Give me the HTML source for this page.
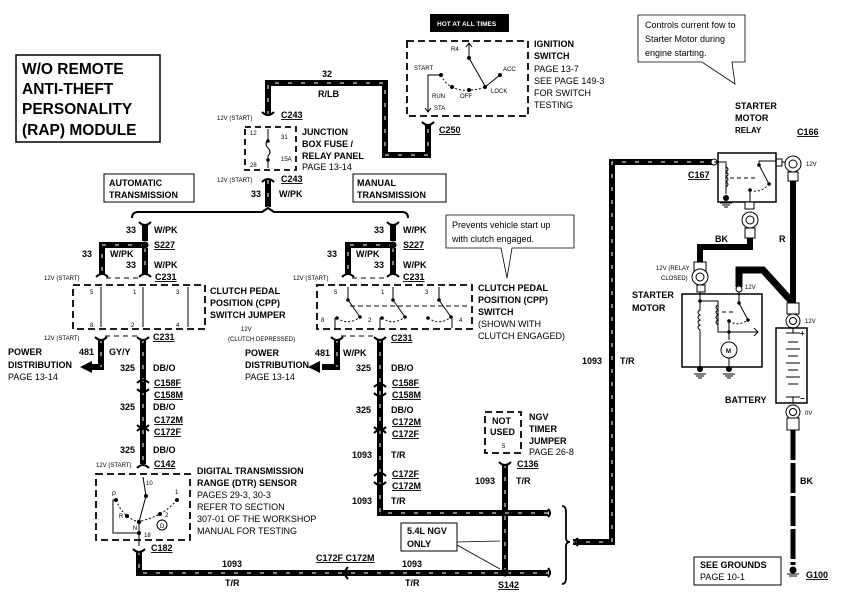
<!DOCTYPE html>
<html><head><meta charset="utf-8"><style>
html,body{margin:0;padding:0;background:#fff;}
svg{display:block;}
text{font-family:"Liberation Sans",Arial,sans-serif;fill:#000;}
.b{font-weight:bold;font-size:9px;}
.s{font-size:6px;}
.n{font-size:9px;}
.u{text-decoration:underline;}
</style></head><body>
<svg width="847" height="598" viewBox="0 0 847 598" xmlns="http://www.w3.org/2000/svg">
<rect width="847" height="598" fill="#fff"/>

<!-- title -->
<rect x="16" y="55" width="144" height="87" fill="none" stroke="#000" stroke-width="1.5"/>
<text x="22" y="74" style="font-size:15.5px;font-weight:bold">W/O REMOTE</text>
<text x="22" y="94" style="font-size:15.5px;font-weight:bold">ANTI-THEFT</text>
<text x="22" y="114" style="font-size:15.5px;font-weight:bold">PERSONALITY</text>
<text x="22" y="135" style="font-size:15.5px;font-weight:bold">(RAP) MODULE</text>

<!-- thick wires -->
<g fill="none" stroke="#000" stroke-width="6" stroke-linejoin="miter">
<path d="M268,115 V83 H385 V155 H428 V125"/>
<path d="M268,180 V207"/>
<path d="M145,224 V241"/>
<path d="M145,248 V274"/>
<path d="M145,245 H102 V274"/>
<path d="M393,224 V241"/>
<path d="M393,248 V274"/>
<path d="M393,245 H348 V274"/>
<path d="M101,339 V367 H88"/>
<path d="M143,339 V464"/>
<path d="M337,339 V367 H322"/>
<path d="M380,339 V513 H548"/>
<path d="M139,551 V573 H548"/>
<path d="M505,464 V573"/>
<path d="M573,542 H612 V162 H712"/>
<path d="M793,180 V303"/>
<path d="M750,238 V247 H700 V262"/>
<path d="M739,287 V270 H763 L793,303" stroke-width="7"/>
</g>
<g fill="none" stroke="#fff" stroke-width="1" stroke-dasharray="4 9">
<path d="M268,115 V83 H385 V155 H428 V125"/>
<path d="M268,180 V207"/>
<path d="M145,248 V274"/>
<path d="M145,245 H102 V274"/>
<path d="M393,245 H348 V274"/>
<path d="M393,248 V274"/>
<path d="M101,339 V367"/>
<path d="M143,339 V464"/>
<path d="M337,339 V367"/>
<path d="M380,339 V513 H548"/>
<path d="M139,551 V573 H548"/>
<path d="M505,464 V573"/>
<path d="M573,542 H612 V162 H712"/>
</g>
<path d="M793,430 V565" stroke="#000" stroke-width="5" stroke-dasharray="30 3" fill="none"/>
<polygon points="80,367 92,361 92,373" fill="#000"/>
<polygon points="308,367 320,361 320,373" fill="#000"/>

<g fill="none" stroke="#000" stroke-width="2">
<path d="M262,112 Q268,118 274,112"/><path d="M262,182 Q268,176 274,182"/>
<path d="M422,122 Q428,128 434,122"/>
<path d="M139,222 Q145,228 151,222"/><path d="M387,222 Q393,228 399,222"/>
<path d="M96,277 Q102,271 108,277"/><path d="M139,277 Q145,271 151,277"/>
<path d="M342,277 Q348,271 354,277"/><path d="M387,277 Q393,271 399,277"/>
<path d="M95,337 Q101,343 107,337"/><path d="M137,337 Q143,343 149,337"/>
<path d="M331,337 Q337,343 343,337"/><path d="M374,337 Q380,343 386,337"/>
<path d="M137,383 Q143,377 149,383"/><path d="M137,389 Q143,395 149,389"/>
<path d="M137,425 Q143,431 149,425"/><path d="M137,431 Q143,425 149,431"/>
<path d="M137,468 Q143,462 149,468"/>
<path d="M374,387 Q380,381 386,387"/><path d="M374,393 Q380,399 386,393"/>
<path d="M374,427 Q380,433 386,427"/><path d="M374,433 Q380,427 386,433"/>
<path d="M374,476 Q380,470 386,476"/><path d="M374,482 Q380,488 386,482"/>
<path d="M133,549 Q139,555 145,549"/>
<path d="M499,462 Q505,468 511,462"/>
<path d="M348,567 Q342,573 348,579"/>
<path d="M548,509 Q552,513 548,517"/><path d="M548,568 Q552,573 548,577"/>
<path d="M578,538 Q573,542 578,546"/>
</g>
<g stroke="#000" stroke-width="1" stroke-dasharray="5 4">
<line x1="106" y1="278" x2="140" y2="278"/><line x1="352" y1="278" x2="388" y2="278"/>
<line x1="105" y1="336" x2="138" y2="336"/><line x1="341" y1="336" x2="375" y2="336"/>
</g>

<!-- fuse box -->
<rect x="245" y="127" width="51" height="43" fill="none" stroke="#000" stroke-width="1.8" stroke-dasharray="6 4"/>
<path d="M268,129 V140 q-4,4 0,8 q4,4 0,8 V168" fill="none" stroke="#000" stroke-width="1"/>
<circle cx="268" cy="141" r="1.8"/><circle cx="268" cy="160" r="1.8"/>
<text x="250" y="135" class="s">12</text><text x="281" y="139" class="s">31</text>
<text x="281" y="161" class="s">15A</text><text x="250" y="167" class="s">28</text>
<text x="217" y="120" class="s">12V (START)</text>
<text x="281" y="118" class="b u">C243</text>
<text x="302" y="135" class="b">JUNCTION</text><text x="302" y="147" class="b">BOX FUSE /</text>
<text x="302" y="159" class="b">RELAY PANEL</text><text x="302" y="170" class="n">PAGE 13-14</text>
<text x="217" y="182" class="s">12V (START)</text>
<text x="281" y="182" class="b u">C243</text>
<text x="251" y="197" class="b">33</text><text x="279" y="197" class="b">W/PK</text>
<text x="322" y="77" class="b">32</text><text x="318" y="97" class="b">R/LB</text>

<path d="M132,218 Q132,212 138,212 H262 L268,208 L274,212 H402 Q408,212 408,218" fill="none" stroke="#000" stroke-width="2"/>

<rect x="104" y="174" width="90" height="28" fill="none" stroke="#000" stroke-width="1"/>
<text x="109" y="186" class="b">AUTOMATIC</text><text x="109" y="198" class="b">TRANSMISSION</text>
<rect x="353" y="174" width="93" height="28" fill="none" stroke="#000" stroke-width="1"/>
<text x="357" y="186" class="b">MANUAL</text><text x="357" y="198" class="b">TRANSMISSION</text>

<circle cx="145" cy="245" r="3.5"/>
<text x="126" y="233" class="b">33</text><text x="154" y="233" class="b">W/PK</text>
<text x="154" y="248" class="b u">S227</text>
<text x="82" y="257" class="b">33</text><text x="110" y="257" class="b">W/PK</text>
<text x="126" y="268" class="b">33</text><text x="154" y="268" class="b">W/PK</text>
<text x="155" y="280" class="b u">C231</text>
<text x="44" y="280" class="s">12V (START)</text>
<circle cx="393" cy="245" r="3.5"/>
<text x="374" y="233" class="b">33</text><text x="403" y="233" class="b">W/PK</text>
<text x="403" y="248" class="b u">S227</text>
<text x="327" y="257" class="b">33</text><text x="356" y="257" class="b">W/PK</text>
<text x="374" y="268" class="b">33</text><text x="403" y="268" class="b">W/PK</text>
<text x="403" y="280" class="b u">C231</text>
<text x="293" y="280" class="s">12V (START)</text>

<rect x="73" y="285" width="132" height="44" fill="none" stroke="#000" stroke-width="1.8" stroke-dasharray="7 4"/>
<g stroke="#000" stroke-width="1">
<line x1="101" y1="287" x2="101" y2="327"/><line x1="143" y1="287" x2="143" y2="327"/><line x1="188" y1="287" x2="188" y2="327"/>
</g>
<text x="90" y="294" class="s">5</text><text x="133" y="294" class="s">1</text><text x="176" y="294" class="s">3</text>
<text x="90" y="327" class="s">8</text><text x="131" y="327" class="s">2</text><text x="176" y="327" class="s">4</text>
<text x="210" y="294" class="b">CLUTCH PEDAL</text><text x="210" y="306" class="b">POSITION (CPP)</text>
<text x="210" y="318" class="b">SWITCH JUMPER</text>

<rect x="317" y="285" width="155" height="44" fill="none" stroke="#000" stroke-width="1.8" stroke-dasharray="7 4"/>
<g stroke="#000" stroke-width="1" fill="none">
<line x1="348" y1="287" x2="348" y2="300"/><line x1="393" y1="287" x2="393" y2="300"/><line x1="439" y1="287" x2="439" y2="300"/>
<line x1="348" y1="300" x2="360" y2="317"/><line x1="393" y1="300" x2="405" y2="317"/><line x1="439" y1="300" x2="451" y2="317"/>
<line x1="350" y1="306" x2="470" y2="306" stroke-dasharray="5 3"/>
<path d="M337,318 Q348,326 360,317" stroke-dasharray="2 2"/><path d="M382,318 Q393,326 405,317" stroke-dasharray="2 2"/><path d="M428,318 Q440,326 451,317" stroke-dasharray="2 2"/>
<line x1="335" y1="318" x2="335" y2="328"/><line x1="380" y1="318" x2="380" y2="328"/><line x1="452" y1="318" x2="452" y2="328"/>
</g>
<g><circle cx="348" cy="300" r="1.8"/><circle cx="393" cy="300" r="1.8"/><circle cx="439" cy="300" r="1.8"/>
<circle cx="360" cy="317" r="1.8"/><circle cx="405" cy="317" r="1.8"/><circle cx="451" cy="317" r="1.8"/>
<circle cx="337" cy="318" r="1.8"/><circle cx="382" cy="318" r="1.8"/><circle cx="428" cy="318" r="1.8"/></g>
<text x="334" y="294" class="s">5</text><text x="381" y="294" class="s">1</text><text x="425" y="294" class="s">3</text>
<text x="321" y="322" class="s">8</text><text x="368" y="322" class="s">2</text><text x="459" y="322" class="s">4</text>
<text x="478" y="291" class="b">CLUTCH PEDAL</text><text x="478" y="303" class="b">POSITION (CPP)</text>
<text x="478" y="315" class="b">SWITCH</text><text x="478" y="327" class="n">(SHOWN WITH</text>
<text x="478" y="339" class="n">CLUTCH ENGAGED)</text>

<path d="M446,215 H574 V248 H512 L507,278 L501,248 H446 Z" fill="#fff" stroke="#000" stroke-width="0.8"/>
<text x="452" y="228" class="n">Prevents vehicle start up</text>
<text x="452" y="242" class="n">with clutch engaged.</text>

<text x="44" y="340" class="s">12V (START)</text>
<text x="153" y="340" class="b u">C231</text>
<text x="8" y="355" class="b">POWER</text><text x="8" y="368" class="b">DISTRIBUTION</text><text x="8" y="380" class="n">PAGE 13-14</text>
<text x="79" y="355" class="b">481</text><text x="109" y="355" class="b">GY/Y</text>
<text x="120" y="371" class="b">325</text><text x="153" y="371" class="b">DB/O</text>
<text x="154" y="386" class="b u">C158F</text><text x="154" y="398" class="b u">C158M</text>
<text x="120" y="410" class="b">325</text><text x="153" y="410" class="b">DB/O</text>
<text x="154" y="423" class="b u">C172M</text><text x="154" y="435" class="b u">C172F</text>
<text x="120" y="453" class="b">325</text><text x="153" y="453" class="b">DB/O</text>
<text x="96" y="467" class="s">12V (START)</text><text x="154" y="467" class="b u">C142</text>

<rect x="96" y="474" width="94" height="66" fill="none" stroke="#000" stroke-width="1.8" stroke-dasharray="7 4"/>
<g stroke="#000" stroke-width="1" fill="none">
<line x1="143" y1="477" x2="146" y2="496"/><line x1="146" y1="496" x2="139" y2="522"/>
<line x1="139" y1="522" x2="139" y2="546"/>
<path d="M116,500 Q120,510 127,516 Q132,520 139,522" stroke-dasharray="2 2"/>
<path d="M177,500 Q170,508 160,514 Q150,519 141,521" stroke-dasharray="2 2"/>
<path d="M116,500 H113 V533 H139"/>
<circle cx="162" cy="525" r="5"/>
</g>
<circle cx="146" cy="496" r="2"/><circle cx="116" cy="500" r="2"/><circle cx="127" cy="516" r="2"/>
<circle cx="139" cy="522" r="2.2"/><circle cx="139" cy="533" r="2"/><circle cx="160" cy="514" r="2"/><circle cx="177" cy="500" r="2"/>
<text x="146" y="485" class="s">10</text><text x="112" y="496" class="s">P</text><text x="119" y="518" class="s">R</text>
<text x="133" y="530" class="s">N</text><text x="144" y="537" class="s">18</text><text x="165" y="517" class="s">2</text>
<text x="175" y="494" class="s">1</text><text x="160" y="528" class="s">D</text>
<text x="197" y="474" class="b">DIGITAL TRANSMISSION</text><text x="197" y="486" class="b">RANGE (DTR) SENSOR</text>
<text x="197" y="498" class="n">PAGES 29-3, 30-3</text><text x="197" y="510" class="n">REFER TO SECTION</text>
<text x="197" y="522" class="n">307-01 OF THE WORKSHOP</text><text x="197" y="534" class="n">MANUAL FOR TESTING</text>
<text x="151" y="551" class="b u">C182</text>

<text x="222" y="567" class="b">1093</text><text x="225" y="586" class="b">T/R</text>
<text x="316" y="561" class="b u">C172F C172M</text>
<text x="402" y="567" class="b">1093</text><text x="405" y="586" class="b">T/R</text>
<circle cx="505" cy="573" r="3.5"/>
<text x="498" y="588" class="b u">S142</text>

<text x="241" y="331" class="s">12V</text>
<text x="228" y="341" class="s">(CLUTCH DEPRESSED)</text>
<text x="391" y="341" class="b u">C231</text>
<text x="245" y="356" class="b">POWER</text><text x="245" y="368" class="b">DISTRIBUTION</text><text x="245" y="380" class="n">PAGE 13-14</text>
<text x="315" y="356" class="b">481</text><text x="343" y="356" class="b">W/PK</text>
<text x="356" y="371" class="b">325</text><text x="391" y="371" class="b">DB/O</text>
<text x="392" y="386" class="b u">C158F</text><text x="392" y="398" class="b u">C158M</text>
<text x="356" y="413" class="b">325</text><text x="391" y="413" class="b">DB/O</text>
<text x="392" y="425" class="b u">C172M</text><text x="392" y="437" class="b u">C172F</text>
<text x="352" y="458" class="b">1093</text><text x="391" y="458" class="b">T/R</text>
<text x="392" y="477" class="b u">C172F</text><text x="392" y="489" class="b u">C172M</text>
<text x="352" y="504" class="b">1093</text><text x="391" y="504" class="b">T/R</text>

<rect x="485" y="412" width="36" height="41" fill="none" stroke="#000" stroke-width="1.8" stroke-dasharray="7 4"/>
<text x="492" y="424" class="b">NOT</text><text x="490" y="435" class="b">USED</text><text x="502" y="448" class="s">5</text>
<text x="529" y="420" class="b">NGV</text><text x="529" y="432" class="b">TIMER</text><text x="529" y="444" class="b">JUMPER</text>
<text x="529" y="455" class="n">PAGE 26-8</text>
<text x="517" y="467" class="b u">C136</text>
<text x="475" y="484" class="b">1093</text><text x="516" y="484" class="b">T/R</text>

<rect x="401" y="523" width="56" height="28" fill="#fff" stroke="#000" stroke-width="1"/>
<text x="407" y="534" class="b">5.4L NGV</text><text x="407" y="547" class="b">ONLY</text>
<line x1="457" y1="545" x2="500" y2="569" stroke="#000" stroke-width="0.8"/>
<line x1="457" y1="542" x2="500" y2="541" stroke="#000" stroke-width="0.8"/>

<path d="M562,506 Q566,506 566,512 V538 Q566,542 570,542 Q566,542 566,546 V578 Q566,584 562,584" fill="none" stroke="#000" stroke-width="1.8"/>

<text x="582" y="364" class="b">1093</text><text x="620" y="364" class="b">T/R</text>

<rect x="430" y="14" width="79" height="18" fill="#000"/>
<text x="437" y="26" style="font-size:6.5px;fill:#fff;font-weight:bold">HOT AT ALL TIMES</text>
<rect x="407" y="41" width="121" height="75" fill="none" stroke="#000" stroke-width="1.8" stroke-dasharray="7 4"/>
<g stroke="#000" stroke-width="1" fill="none">
<line x1="469" y1="58" x2="469" y2="43"/><path d="M466,47 L469,43 L472,47"/>
<line x1="469" y1="58" x2="485" y2="86"/><line x1="485" y1="87" x2="500" y2="75"/>
<path d="M441,75 Q445,84 452,87 Q460,91 469,90 Q478,90 485,87" stroke-dasharray="2 2"/>
<path d="M441,75 H428 V112"/><path d="M425,108 L428,112 L431,108"/>
</g>
<circle cx="469" cy="58" r="2"/><circle cx="441" cy="75" r="2"/><circle cx="452" cy="87" r="2"/>
<circle cx="469" cy="90" r="2"/><circle cx="485" cy="87" r="2"/><circle cx="500" cy="75" r="2"/>
<text x="451" y="51" class="s">R4</text><text x="414" y="70" class="s">START</text><text x="503" y="71" class="s">ACC</text>
<text x="432" y="98" class="s">RUN</text><text x="460" y="98" class="s">OFF</text><text x="491" y="93" class="s">LOCK</text>
<text x="434" y="110" class="s">STA</text>
<text x="439" y="133" class="b u">C250</text>
<text x="534" y="47" class="b">IGNITION</text><text x="534" y="59" class="b">SWITCH</text>
<text x="534" y="72" class="n">PAGE 13-7</text><text x="534" y="84" class="n">SEE PAGE 149-3</text>
<text x="534" y="96" class="n">FOR SWITCH</text><text x="534" y="108" class="n">TESTING</text>

<path d="M638,15 H745 V62 H732 L735,84 L702,62 H638 Z" fill="#fff" stroke="#000" stroke-width="0.8"/>
<text x="645" y="28" class="n">Controls current fow to</text>
<text x="645" y="42" class="n">Starter Motor during</text>
<text x="645" y="56" class="n">engine starting.</text>
<text x="735" y="109" class="b">STARTER</text><text x="735" y="121" class="b">MOTOR</text><text x="735" y="133" class="b" style="font-size:8px">RELAY</text>

<rect x="718" y="153" width="58" height="49" fill="none" stroke="#000" stroke-width="1.5"/>
<circle cx="714" cy="162" r="3" fill="#fff" stroke="#000"/>
<text x="688" y="178" class="b u">C167</text>
<g stroke="#000" stroke-width="1" fill="none">
<path d="M714,162 H726 V194"/>
<path d="M726,167 q4,2 0,5 q4,2 0,5 q4,2 0,5 q4,2 0,5"/>
<line x1="730" y1="178" x2="758" y2="178" stroke-dasharray="4 3"/>
<line x1="759" y1="165" x2="769" y2="184"/><path d="M759,165 V161 H776"/>
<path d="M750,190 Q760,194 769,184" stroke-dasharray="2 2"/><line x1="750" y1="190" x2="750" y2="206"/>
<rect x="776" y="159" width="6" height="7"/>
<line x1="782" y1="162" x2="785" y2="162"/>
</g>
<circle cx="759" cy="165" r="1.8"/><circle cx="769" cy="184" r="1.8"/><circle cx="750" cy="190" r="1.8"/>
<circle cx="726" cy="198" r="3"/>
<g stroke="#000" stroke-width="1"><line x1="720" y1="203" x2="732" y2="203"/><line x1="722" y1="205" x2="730" y2="205"/><line x1="724" y1="207" x2="728" y2="207"/></g>
<rect x="745" y="202" width="9" height="7" fill="#fff" stroke="#000"/>
<circle cx="750" cy="220" r="8" fill="#fff" stroke="#000"/><circle cx="750" cy="220" r="4" fill="none" stroke="#000"/>
<rect x="745" y="228" width="10" height="10" fill="#fff" stroke="#000"/>
<text x="797" y="135" class="b u">C166</text>
<circle cx="793" cy="164" r="8" fill="#fff" stroke="#000"/><circle cx="793" cy="164" r="4" fill="none" stroke="#000"/>
<rect x="788" y="172" width="10" height="9" fill="#fff" stroke="#000"/>
<text x="806" y="166" class="s">12V</text>
<text x="715" y="242" class="b">BK</text><text x="779" y="242" class="b">R</text>

<rect x="694" y="262" width="12" height="10" fill="#fff" stroke="#000"/>
<circle cx="700" cy="277" r="8" fill="#fff" stroke="#000"/><circle cx="700" cy="277" r="4" fill="none" stroke="#000"/>
<text x="656" y="270" class="s">12V (RELAY</text><text x="661" y="280" class="s">CLOSED)</text>
<rect x="697" y="285" width="8" height="7" fill="#fff" stroke="#000"/>
<text x="632" y="298" class="b">STARTER</text><text x="632" y="311" class="b">MOTOR</text>
<rect x="682" y="294" width="80" height="73" fill="none" stroke="#000" stroke-width="1.5"/>
<g stroke="#000" stroke-width="1" fill="none">
<path d="M700,292 V301 H718 V330"/>
<path d="M700,301 V310 q-4,2 0,5 q-4,2 0,5 q-4,2 0,5 q-4,2 0,5 V368"/>
<path d="M718,305 q-4,2 0,5 q-4,2 0,5 q-4,2 0,5 q-4,2 0,5 V332 H758"/>
<path d="M754,328 L758,332 L754,336"/>
<line x1="722" y1="312" x2="735" y2="312" stroke-dasharray="4 3"/>
<path d="M739,290 V303 L748,320"/>
<path d="M729,321 Q738,327 748,320" stroke-dasharray="2 2"/>
<path d="M729,321 V332"/>
<line x1="729" y1="332" x2="729" y2="340"/>
<circle cx="729" cy="350" r="8"/>
<line x1="729" y1="358" x2="729" y2="368"/>
</g>
<circle cx="739" cy="289" r="3" fill="#fff" stroke="#000"/>
<circle cx="739" cy="303" r="1.8"/><circle cx="748" cy="320" r="1.8"/><circle cx="729" cy="321" r="1.8"/><circle cx="700" cy="301" r="1.8"/><circle cx="729" cy="332" r="1.8"/>
<text x="726" y="353" style="font-size:6px;font-weight:bold">M</text>
<text x="745" y="289" class="s">12V</text>
<circle cx="700" cy="369" r="3"/><circle cx="729" cy="369" r="3"/>
<g stroke="#000" stroke-width="1"><line x1="694" y1="374" x2="706" y2="374"/><line x1="696" y1="376" x2="704" y2="376"/><line x1="698" y1="378" x2="702" y2="378"/>
<line x1="723" y1="374" x2="735" y2="374"/><line x1="725" y1="376" x2="733" y2="376"/><line x1="727" y1="378" x2="731" y2="378"/></g>

<rect x="787" y="303" width="12" height="11" fill="#fff" stroke="#000"/>
<circle cx="793" cy="321" r="7" fill="#fff" stroke="#000"/><circle cx="793" cy="321" r="3.5" fill="none" stroke="#000"/>
<text x="805" y="323" class="s">12V</text>
<rect x="776" y="328" width="31" height="75" fill="none" stroke="#000" stroke-width="1.5"/>
<g stroke="#000" stroke-width="1">
<line x1="793" y1="328" x2="793" y2="333"/><line x1="786" y1="333" x2="800" y2="333"/>
<line x1="788" y1="342" x2="798" y2="342"/><line x1="786" y1="349" x2="800" y2="349"/>
<line x1="788" y1="356" x2="798" y2="356"/><line x1="786" y1="363" x2="800" y2="363"/>
<line x1="788" y1="370" x2="798" y2="370"/><line x1="786" y1="377" x2="800" y2="377"/>
<line x1="788" y1="384" x2="798" y2="384"/><line x1="786" y1="397" x2="800" y2="397"/><line x1="793" y1="397" x2="793" y2="403"/>
</g>
<text x="800" y="336" style="font-size:8px;font-weight:bold">+</text>
<text x="800" y="401" style="font-size:8px;font-weight:bold">−</text>
<text x="725" y="403" class="b">BATTERY</text>
<circle cx="793" cy="412" r="7" fill="#fff" stroke="#000"/><circle cx="793" cy="412" r="3.5" fill="none" stroke="#000"/>
<text x="805" y="415" class="s">0V</text>
<rect x="787" y="418" width="12" height="12" fill="#fff" stroke="#000"/>
<text x="800" y="484" class="b">BK</text>
<circle cx="793" cy="570" r="3.5"/>
<g stroke="#000" stroke-width="1"><line x1="787" y1="574" x2="799" y2="574"/><line x1="789" y1="576" x2="797" y2="576"/></g>
<text x="806" y="578" class="b u">G100</text>
<rect x="694" y="557" width="87" height="28" fill="none" stroke="#000" stroke-width="1"/>
<text x="700" y="568" class="b">SEE GROUNDS</text><text x="700" y="580" class="n">PAGE 10-1</text>
</svg>
</body></html>
